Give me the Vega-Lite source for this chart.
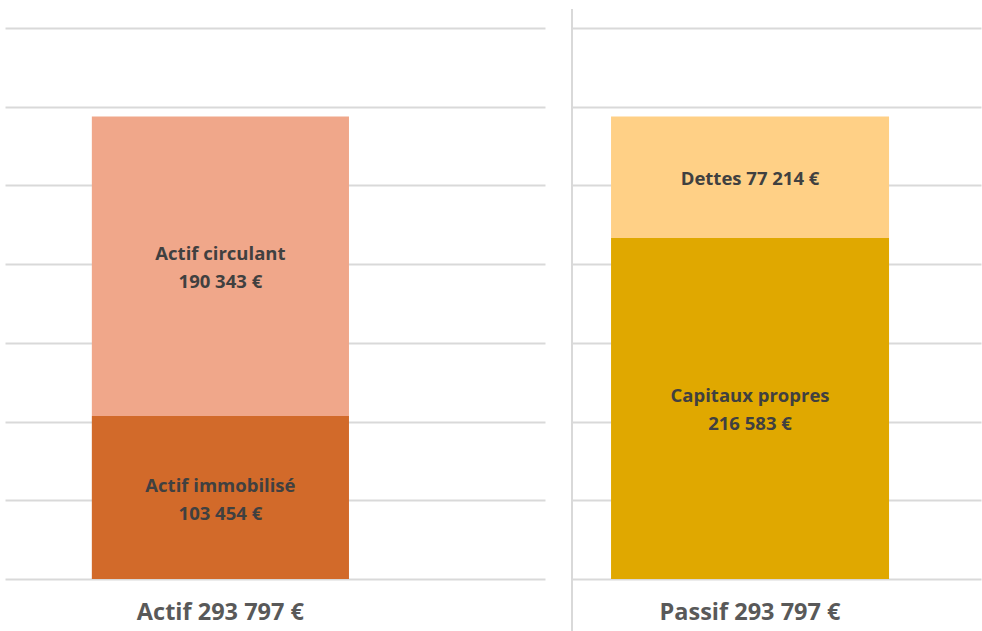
{
  "$schema": "https://vega.github.io/schema/vega-lite/v6.json",
  "padding": {"top": 8, "left": 5, "right": 1, "bottom": 0},
  "background": "white",
  "config": {
    "view": {"stroke": null},
    "font": "Open Sans",
    "axisX": {"title": null, "ticks": false, "domain": false, "labelAngle": 0, "labelFontSize": 23.5, "labelFontWeight": "bold", "labelColor": "#595959", "labelPadding": 21, "labelLimit": 400, "grid": false, "labelFont": "Open Sans"},
    "axisY": {"title": null, "domain": false, "ticks": false, "labels": false, "grid": true, "gridColor": "#d9d9d9", "gridWidth": 2}
  },
  "datasets": {
    "bilan": [
      {"panel": "Actif", "cat": "Actif 293 797 €", "segment": "Actif immobilisé", "order": 1, "value": 103454, "label": "Actif immobilisé\n103 454 €"},
      {"panel": "Actif", "cat": "Actif 293 797 €", "segment": "Actif circulant", "order": 2, "value": 190343, "label": "Actif circulant\n190 343 €"},
      {"panel": "Passif", "cat": "Passif 293 797 €", "segment": "Capitaux propres", "order": 1, "value": 216583, "label": "Capitaux propres\n216 583 €"},
      {"panel": "Passif", "cat": "Passif 293 797 €", "segment": "Dettes", "order": 2, "value": 77214, "label": "Dettes 77 214 €"}
    ]
  },
  "spacing": 26,
  "hconcat": [
    {
      "width": 540,
      "height": 570,
      "data": {"name": "bilan"},
      "transform": [
        {"filter": "datum.panel === 'Actif'"},
        {"stack": "value", "groupby": ["cat"], "sort": [{"field": "order"}], "as": ["y0", "y1"]},
        {"calculate": "(datum.y0 + datum.y1) / 2", "as": "mid"}
      ],
      "encoding": {
        "x": {"field": "cat", "type": "nominal", "scale": {"paddingInner": 0, "paddingOuter": 0.55, "align": 0.307}}
      },
      "layer": [
        {
          "mark": {"type": "bar"},
          "encoding": {
            "y": {"field": "y0", "type": "quantitative", "scale": {"domain": [0, 362000], "nice": false},
              "axis": {"values": [0, 50000, 100000, 150000, 200000, 250000, 300000, 350000]}},
            "y2": {"field": "y1"},
            "color": {"field": "segment", "type": "nominal", "legend": null,
              "scale": {"domain": ["Actif immobilisé", "Actif circulant", "Capitaux propres", "Dettes"], "range": ["#D26A2A", "#F0A78A", "#E0A800", "#FFD086"]}}
          }
        },
        {
          "transform": [{"filter": "indexof(datum.label, '\\n') >= 0"}],
          "mark": {"type": "text", "lineBreak": "\n", "lineHeight": 28, "fontWeight": "bold", "fontSize": 18.5, "color": "#404040", "baseline": "middle", "dy": -12},
          "encoding": {
            "y": {"field": "mid", "type": "quantitative"},
            "text": {"field": "label"}
          }
        }
      ]
    },
    {
      "width": 409,
      "height": 570,
      "data": {"name": "bilan"},
      "transform": [
        {"filter": "datum.panel === 'Passif'"},
        {"stack": "value", "groupby": ["cat"], "sort": [{"field": "order"}], "as": ["y0", "y1"]},
        {"calculate": "(datum.y0 + datum.y1) / 2", "as": "mid"}
      ],
      "layer": [
        {
          "encoding": {
            "x": {"field": "cat", "type": "nominal", "scale": {"paddingInner": 0, "paddingOuter": 0.2356, "align": 0.298}}
          },
          "layer": [
            {
              "mark": {"type": "bar"},
              "encoding": {
                "y": {"field": "y0", "type": "quantitative", "scale": {"domain": [0, 362000], "nice": false},
                  "axis": {"values": [0, 50000, 100000, 150000, 200000, 250000, 300000, 350000]}},
                "y2": {"field": "y1"},
                "color": {"field": "segment", "type": "nominal", "legend": null,
                  "scale": {"domain": ["Actif immobilisé", "Actif circulant", "Capitaux propres", "Dettes"], "range": ["#D26A2A", "#F0A78A", "#E0A800", "#FFD086"]}}
              }
            },
            {
              "transform": [{"filter": "indexof(datum.label, '\\n') >= 0"}],
              "mark": {"type": "text", "lineBreak": "\n", "lineHeight": 28, "fontWeight": "bold", "fontSize": 18.5, "color": "#404040", "baseline": "middle", "dy": -12},
              "encoding": {
                "y": {"field": "mid", "type": "quantitative"},
                "text": {"field": "label"}
              }
            },
            {
              "transform": [{"filter": "indexof(datum.label, '\\n') < 0"}],
              "mark": {"type": "text", "fontWeight": "bold", "fontSize": 18.5, "color": "#404040", "baseline": "middle", "dy": 2},
              "encoding": {
                "y": {"field": "mid", "type": "quantitative"},
                "text": {"field": "label"}
              }
            }
          ]
        },
        {
          "mark": {"type": "rule", "clip": false, "color": "#d9d9d9", "strokeWidth": 2},
          "encoding": {
            "x": {"datum": 0, "type": "quantitative", "scale": {"domain": [0, 1]}, "axis": null},
            "y": {"datum": 362000, "type": "quantitative"},
            "y2": {"datum": -34000}
          }
        }
      ],
      "resolve": {"scale": {"x": "independent"}, "axis": {"x": "independent"}}
    }
  ]
}
